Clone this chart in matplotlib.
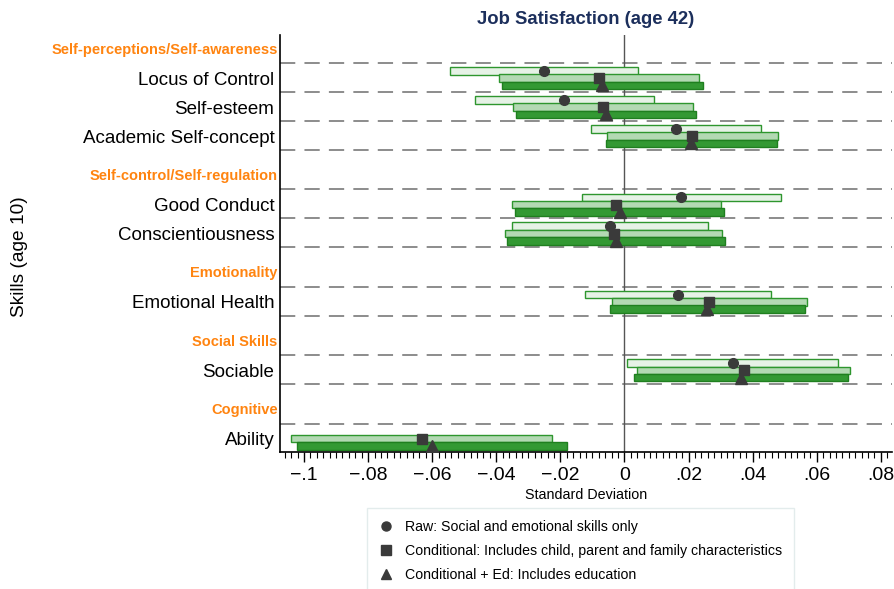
import numpy as np
import matplotlib
matplotlib.use('Agg')
import matplotlib.pyplot as plt
from matplotlib.lines import Line2D
from matplotlib.ticker import MultipleLocator, FuncFormatter

plt.rcParams['font.family'] = ['Liberation Sans', 'DejaVu Sans']

# ── Data ──────────────────────────────────────────────────────────────
groups = ["Self-perceptions/Self-awareness", "Self-control/Self-regulation",
          "Emotionality", "Social Skills", "Cognitive"]
group_items = [["Locus of Control", "Self-esteem", "Academic Self-concept"],
               ["Good Conduct", "Conscientiousness"],
               ["Emotional Health"],
               ["Sociable"],
               ["Ability"]]

# point estimate, lower, upper  (None = not shown)
raw_est = [-0.0252, -0.0188, 0.0160, 0.0178, -0.0046, 0.0168, 0.0338, None]
raw_lo  = [-0.0546, -0.0467, -0.0105, -0.0133, -0.0352, -0.0124, 0.0008, None]
raw_hi  = [0.0043, 0.0091, 0.0426, 0.0490, 0.0262, 0.0458, 0.0668, None]

cond_est = [-0.0078, -0.0068, 0.0212, -0.0026, -0.0033, 0.0265, 0.0372, -0.0632]
cond_lo  = [-0.0390, -0.0349, -0.0054, -0.0352, -0.0372, -0.0040, 0.0040, -0.1040]
cond_hi  = [0.0234, 0.0213, 0.0479, 0.0301, 0.0305, 0.0570, 0.0705, -0.0225]

ed_est = [-0.0069, -0.0057, 0.0208, -0.0015, -0.0025, 0.0259, 0.0364, -0.0600]
ed_lo  = [-0.0383, -0.0338, -0.0058, -0.0343, -0.0366, -0.0046, 0.0030, -0.1023]
ed_hi  = [0.0245, 0.0224, 0.0475, 0.0312, 0.0315, 0.0565, 0.0698, -0.0180]

# ── Layout rows ───────────────────────────────────────────────────────
HEADER_H = 1.36
header_y, item_y, sep_y = [], [], []
cursor = 0.45
for gi, items in enumerate(group_items):
    if gi == 0:
        header_y.append(0.0)
    else:
        header_y.append(cursor + 0.9)
        cursor += HEADER_H
    sep_y.append(cursor)
    for _ in items:
        item_y.append(cursor + 0.52)
        cursor += 1.0
        sep_y.append(cursor)
sep_y = sep_y[:-1]
item_y = np.array(item_y)
item_names = [n for items in group_items for n in items]

fig = plt.figure(figsize=(8.94, 5.89), dpi=100)
ax = fig.add_axes([280 / 894, 1 - 452 / 589, 612 / 894, 417 / 589])

for y in sep_y:
    ax.axhline(y, color='#6e6e6e', lw=1.1, ls=(0, (10, 6)), zorder=1)
ax.axvline(0, color='#555555', lw=1.0, zorder=1)

H = 0.26
series = [
    (raw_est, raw_lo, raw_hi, -0.25, '#e6f2e6', '#2e962e', 'o', 7),
    (cond_est, cond_lo, cond_hi, 0.0, '#b3d9b3', '#2e962e', 's', 7),
    (ed_est, ed_lo, ed_hi, 0.25, '#339933', '#1f7f1f', '^', 9),
]
for est, lo, hi, off, fc, ec, mk, ms in series:
    for i, y in enumerate(item_y):
        if est[i] is None:
            continue
        ax.barh(y + off, hi[i] - lo[i], left=lo[i], height=H,
                color=fc, edgecolor=ec, lw=1.0, zorder=2)
        ax.plot(est[i], y + off, marker=mk, ms=ms, color='#3a3a3a',
                mec='#3a3a3a', ls='none', zorder=3)

ax.set_xlim(-0.1075, 0.0835)
ax.set_ylim(13.87, -0.52)

ax.set_yticks(item_y)
ax.set_yticklabels(item_names, fontsize=13.5, color='black')
ax.tick_params(axis='y', length=0, pad=4)
for name, y in zip(groups, header_y):
    ax.text(-0.004, y, name, transform=ax.get_yaxis_transform(),
            ha='right', va='center', fontsize=10.5, fontweight='bold',
            color='#ff8410')

ax.xaxis.set_major_locator(MultipleLocator(0.02))
ax.xaxis.set_minor_locator(MultipleLocator(0.002))


def fmt(v, _):
    if abs(v) < 1e-9:
        return '0'
    s = ('%.2f' % abs(v)).rstrip('0').lstrip('0')
    return ('\u2212' if v < 0 else '') + s


ax.xaxis.set_major_formatter(FuncFormatter(fmt))
ax.tick_params(axis='x', which='major', length=7, width=1, labelsize=14, pad=4)
ax.tick_params(axis='x', which='minor', length=4, width=0.8)
ax.set_xlabel('Standard Deviation', fontsize=10.3, labelpad=3)

for s in ['top', 'right']:
    ax.spines[s].set_visible(False)
ax.spines['left'].set_linewidth(1.2)
ax.spines['bottom'].set_linewidth(1.2)

fig.text(586 / 894, 1 - 19 / 589, 'Job Satisfaction (age 42)', ha='center',
         va='center', fontsize=13.3, fontweight='bold', color='#1c2f5c')
fig.text(20 / 894, 1 - 257 / 589, 'Skills (age 10)', ha='center', va='center',
         rotation=90, fontsize=13.8)

handles = [Line2D([], [], marker='o', ls='none', color='#3a3a3a', ms=6.5),
           Line2D([], [], marker='s', ls='none', color='#3a3a3a', ms=6.5),
           Line2D([], [], marker='^', ls='none', color='#3a3a3a', ms=7.5)]
labels = ['Raw: Social and emotional skills only',
          'Conditional: Includes child, parent and family characteristics',
          'Conditional + Ed: Includes education']
leg = fig.legend(handles, labels, loc='upper left',
                 bbox_to_anchor=(367 / 894, 1 - 508 / 589), fontsize=10.2,
                 frameon=True, fancybox=False, edgecolor='#dde8e8',
                 handlelength=1.0, handletextpad=0.8, labelspacing=0.72,
                 borderpad=0.85, borderaxespad=0)
leg.get_frame().set_linewidth(1.0)

fig.savefig('out.png', dpi=100)
